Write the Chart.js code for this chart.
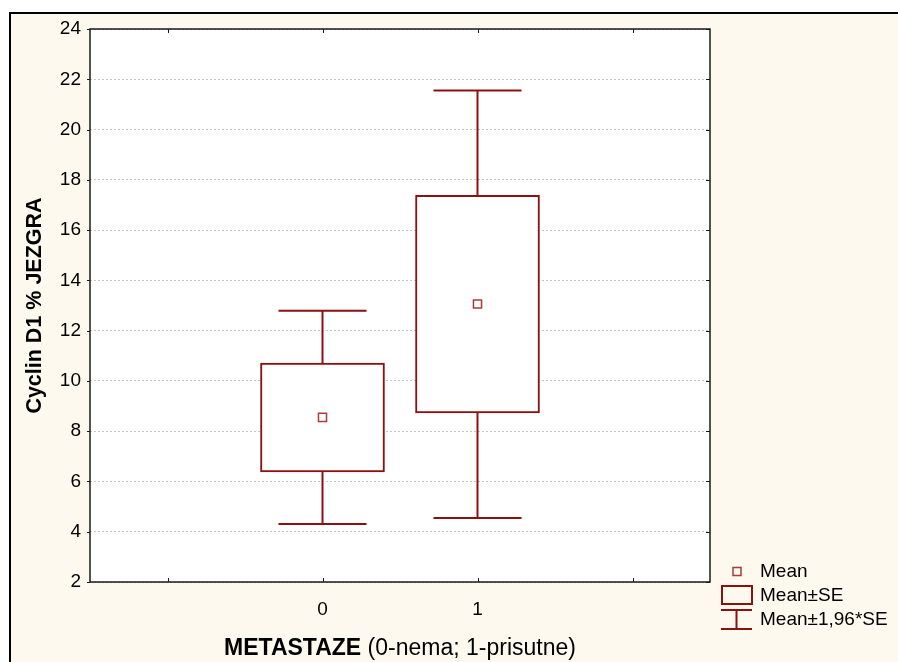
<!DOCTYPE html>
<html>
<head>
<meta charset="utf-8">
<script src="https://cdn.jsdelivr.net/npm/chart.js@4.4.1/dist/chart.umd.min.js"></script>
<style>
  html, body { margin: 0; padding: 0; background: #fff; }
  #wrap { width: 898px; height: 662px; }
</style>
</head>
<body>
<div id="wrap"><canvas id="cyclin-chart" width="898" height="662"></canvas></div>
<script>
  // groups of METASTAZE (0-nema; 1-prisutne)
  const categories = ['0', '1'];
  const groupPos = [0, 1];
  const means = [8.55, 13.06];
  const seLow = [6.38, 8.73];
  const seHigh = [10.71, 17.38];
  const ciLow = [4.31, 4.55];
  const ciHigh = [12.79, 21.55];

  const yTicks = [2, 4, 6, 8, 10, 12, 14, 16, 18, 20, 22, 24];
  const xTicks = [-1, 0, 1, 2];
  const legendLabels = ['Mean', 'Mean\u00b1SE', 'Mean\u00b11,96*SE'];

  const xTitleBold = 'METASTAZE';
  const xTitleRest = ' (0-nema; 1-prisutne)';
  const yTitle = 'Cyclin D1 % JEZGRA';

  const RED = '#8b1010';
  const FONT = "'Liberation Sans', Arial, sans-serif";
  const capHalf = 0.284;

  function whiskerData() {
    var pts = [];
    groupPos.forEach(function (c, i) {
      pts.push({x: c - capHalf, y: ciHigh[i]}, {x: c + capHalf, y: ciHigh[i]}, {x: c, y: null});
      pts.push({x: c, y: ciHigh[i]}, {x: c, y: seHigh[i]}, {x: c, y: null});
      pts.push({x: c, y: seLow[i]}, {x: c, y: ciLow[i]}, {x: c, y: null});
      pts.push({x: c - capHalf, y: ciLow[i]}, {x: c + capHalf, y: ciLow[i]}, {x: c, y: null});
    });
    return pts;
  }

  const frameBg = {
    id: 'frameBg',
    beforeDraw(chart) {
      const ctx = chart.ctx, a = chart.chartArea;
      ctx.save();
      ctx.fillStyle = '#fff';
      ctx.fillRect(0, 0, chart.width, chart.height);
      ctx.fillStyle = '#fdf9ef';
      ctx.fillRect(10, 13, chart.width - 10, chart.height - 13);
      ctx.fillStyle = '#000';
      ctx.fillRect(9, 12, chart.width - 9, 2);
      ctx.fillRect(9, 12, 2, chart.height - 12);
      ctx.fillStyle = '#fff';
      ctx.fillRect(a.left, a.top, a.right - a.left, a.bottom - a.top);
      ctx.restore();
    },
    afterDraw(chart) {
      const ctx = chart.ctx, a = chart.chartArea;
      const xs = chart.scales.x, ys = chart.scales.y;
      ctx.save();
      // plot frame
      ctx.strokeStyle = '#1a1a1a';
      ctx.lineWidth = 1.5;
      ctx.strokeRect(a.left, a.top, a.right - a.left, a.bottom - a.top);
      // tick marks
      ctx.lineWidth = 1;
      ctx.beginPath();
      ys.ticks.forEach(function (t) {
        var y = Math.round(ys.getPixelForValue(t.value)) + 0.5;
        ctx.moveTo(a.left - 3, y); ctx.lineTo(a.left, y);
        ctx.moveTo(a.right - 4, y); ctx.lineTo(a.right, y);
      });
      xs.ticks.forEach(function (t) {
        var x = Math.round(xs.getPixelForValue(t.value)) + 0.5;
        ctx.moveTo(x, a.bottom - 4); ctx.lineTo(x, a.bottom);
        ctx.moveTo(x, a.top); ctx.lineTo(x, a.top + 4);
      });
      ctx.stroke();

      // x title, bold part + normal part
      ctx.fillStyle = '#000';
      ctx.textBaseline = 'alphabetic';
      ctx.textAlign = 'left';
      ctx.font = 'bold 23px ' + FONT;
      var w1 = ctx.measureText(xTitleBold).width;
      ctx.font = '23px ' + FONT;
      var w2 = ctx.measureText(xTitleRest).width;
      var x0 = (a.left + a.right) / 2 - (w1 + w2) / 2;
      ctx.font = 'bold 23px ' + FONT;
      ctx.fillText(xTitleBold, x0, 655);
      ctx.font = '23px ' + FONT;
      ctx.fillText(xTitleRest, x0 + w1, 655);

      // y title
      ctx.save();
      ctx.translate(41, (a.top + a.bottom) / 2);
      ctx.rotate(-Math.PI / 2);
      ctx.textAlign = 'center';
      ctx.font = 'bold 21.5px ' + FONT;
      ctx.fillText(yTitle, 0, 0);
      ctx.restore();

      // legend
      var rows = [571.5, 596, 620];
      ctx.strokeStyle = '#a83c3c';
      ctx.lineWidth = 1.5;
      ctx.strokeRect(733, 567.5, 8, 8);
      ctx.strokeStyle = RED;
      ctx.lineWidth = 2;
      ctx.strokeRect(722, 586, 30, 18);
      ctx.beginPath();
      ctx.moveTo(721, 610); ctx.lineTo(752, 610);
      ctx.moveTo(736.5, 610); ctx.lineTo(736.5, 629);
      ctx.moveTo(721, 629); ctx.lineTo(752, 629);
      ctx.stroke();
      ctx.fillStyle = '#000';
      ctx.font = '19px ' + FONT;
      ctx.textBaseline = 'middle';
      legendLabels.forEach(function (txt, i) {
        ctx.fillText(txt, 760, rows[i]);
      });
      ctx.restore();
    }
  };

  function renderChart() {
    const ctx = document.getElementById('cyclin-chart').getContext('2d');
    new Chart(ctx, {
      type: 'bar',
      data: {
        datasets: [
          {
            type: 'line',
            label: 'Mean',
            data: groupPos.map((c, i) => ({x: c, y: means[i]})),
            showLine: false,
            pointStyle: 'rect',
            pointRadius: 5.7,
            pointBackgroundColor: '#fff',
            pointBorderColor: '#a83c3c',
            pointBorderWidth: 1.5
          },
          {
            type: 'line',
            label: 'Mean\u00b11,96*SE',
            data: whiskerData(),
            borderColor: RED,
            borderWidth: 2,
            pointRadius: 0,
            spanGaps: false,
            fill: false,
            tension: 0
          },
          {
            type: 'bar',
            label: 'Mean\u00b1SE',
            data: groupPos.map((c, i) => ({x: c, y: [seLow[i], seHigh[i]]})),
            backgroundColor: '#fff',
            borderColor: RED,
            borderWidth: 2,
            borderSkipped: false,
            barThickness: 124
          }
        ]
      },
      options: {
        responsive: false,
        animation: false,
        events: [],
        layout: { padding: { left: 20, right: 188, top: 29, bottom: 0 } },
        plugins: { legend: { display: false }, tooltip: { enabled: false } },
        scales: {
          x: {
            type: 'linear',
            min: -1.5,
            max: 2.5,
            offset: false,
            grid: { display: false, offset: false },
            border: { display: false },
            afterBuildTicks: (s) => { s.ticks = xTicks.map(v => ({value: v})); },
            afterFit: (s) => { s.height = 80; },
            ticks: {
              padding: 8,
              color: '#000',
              font: { family: FONT, size: 19 },
              maxRotation: 0,
              callback: (v) => {
                var k = groupPos.indexOf(v);
                return k >= 0 ? categories[k] : '';
              }
            }
          },
          y: {
            min: 2,
            max: 24,
            grid: { color: '#c4c4c4', lineWidth: 1, drawTicks: false },
            border: { display: false, dash: [2, 2] },
            afterBuildTicks: (s) => { s.ticks = yTicks.map(v => ({value: v})); },
            afterFit: (s) => { s.width = 70; },
            ticks: {
              padding: 9,
              color: '#000',
              font: { family: FONT, size: 19 }
            }
          }
        }
      },
      plugins: [frameBg]
    });
  }

  window.onload = () => {
    renderChart();
  };
</script>
</body>
</html>
